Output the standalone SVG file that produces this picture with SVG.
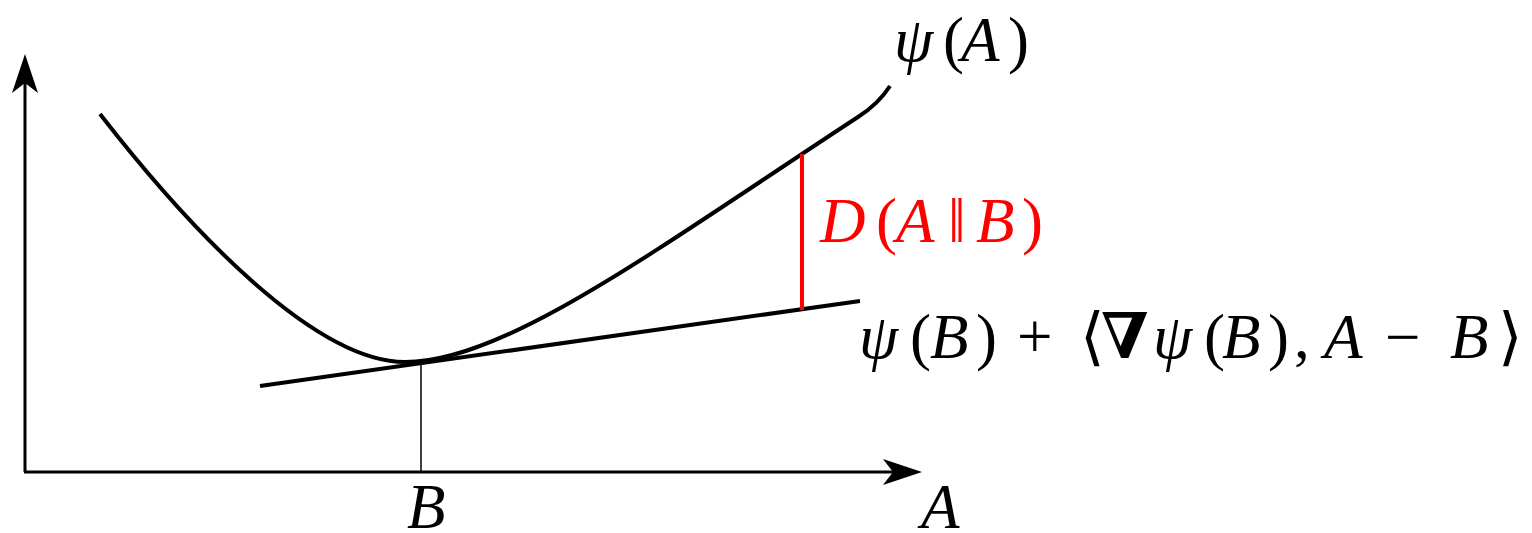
<svg xmlns="http://www.w3.org/2000/svg" width="1532" height="533" viewBox="0 0 1532 533">
<defs>
<style>
.ln{fill:none;stroke:#000;stroke-linecap:butt;stroke-linejoin:round}
text{font-family:'Liberation Serif','Times New Roman','DejaVu Serif',serif;font-size:63px;fill:#000}
.i{font-style:italic}
.u{font-style:normal}
.red{fill:#ff0000}
</style>
<marker id="arr" viewBox="0 -14 40 28" refX="10" refY="0" markerWidth="40" markerHeight="28" markerUnits="userSpaceOnUse" orient="auto">
<path d="M0,-13 L39,0 L0,13 L10,0 Z" fill="#000"/>
</marker>
</defs>
<rect width="1532" height="533" fill="#fff"/>
<g id="axes">
<line class="ln" x1="25" y1="472" x2="25" y2="83" stroke-width="3" marker-end="url(#arr)"/>
<line class="ln" x1="24" y1="472" x2="893" y2="472" stroke-width="3" marker-end="url(#arr)"/>
</g>
<g id="connectors">
<path id="curve" class="ln" stroke-width="4" d="M100,114 C190,230 315,362 405,362 C505,362 655,250 858,117 C872,108 883,97 890,86"/>
<line id="tangent" class="ln" stroke-width="4" x1="260" y1="386" x2="860" y2="301"/>
<line id="drop" class="ln" stroke-width="1.5" x1="421" y1="363" x2="421" y2="472"/>
<line id="gap" class="ln" stroke-width="4" x1="802" y1="154" x2="802" y2="310" style="stroke:#ff0000"/>
</g>
<g id="label-psiA">
<text y="61"><tspan class="i" x="894">ψ</tspan><tspan class="u" x="943">(</tspan><tspan class="i" x="961">A</tspan><tspan class="u" x="1008">)</tspan></text>
</g>
<g id="label-D">
<text class="red" y="242"><tspan class="i" x="820">D</tspan><tspan class="u" x="876">(</tspan><tspan class="i" x="896">A</tspan><tspan class="u" x="948">‖</tspan><tspan class="i" x="976">B</tspan><tspan class="u" x="1022">)</tspan></text>
</g>
<g id="label-tangent">
<text y="358"><tspan class="i" x="859">ψ</tspan><tspan class="u" x="910">(</tspan><tspan class="i" x="930">B</tspan><tspan class="u" x="976">)</tspan><tspan class="u" x="1017">+</tspan><tspan class="u" x="1080">⟨</tspan><tspan class="u" font-weight="bold" x="1101">∇</tspan><tspan class="i" x="1153">ψ</tspan><tspan class="u" x="1204">(</tspan><tspan class="i" x="1222">B</tspan><tspan class="u" x="1268">)</tspan><tspan class="u" x="1294">,</tspan><tspan class="i" x="1324">A</tspan><tspan class="u" x="1385">−</tspan><tspan class="i" x="1450">B</tspan><tspan class="u" x="1498">⟩</tspan></text>
</g>
<g id="label-B">
<text class="i" x="407" y="528">B</text>
</g>
<g id="label-A">
<text class="i" x="921" y="528">A</text>
</g>
</svg>
